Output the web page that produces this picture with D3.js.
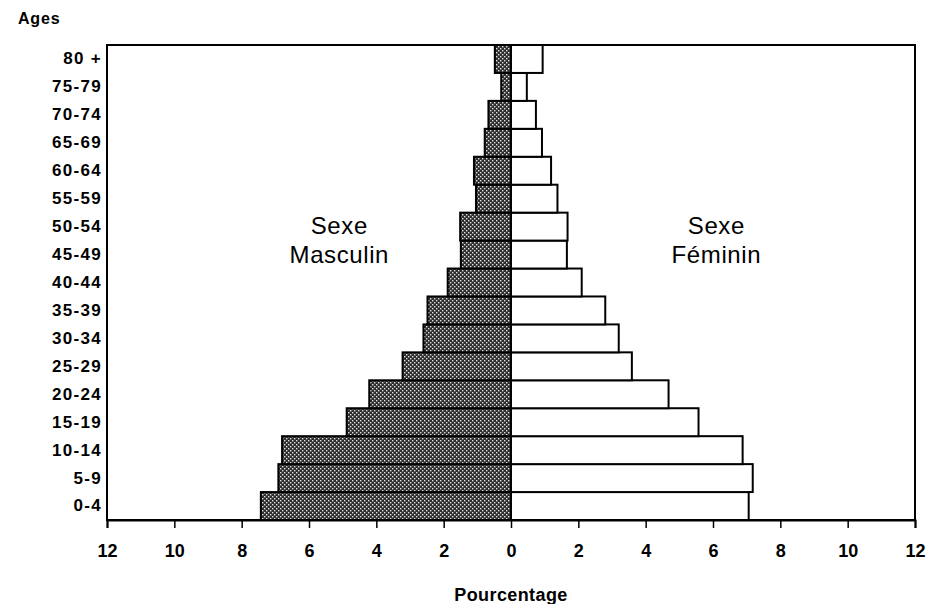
<!DOCTYPE html>
<html>
<head>
<meta charset="utf-8">
<script src="https://cdn.jsdelivr.net/npm/d3@7"></script>
<style>
  body { margin: 0; background: #fff; }
  svg { display: block; }
</style>
</head>
<body>
<svg id="chart"></svg>
<script>
// age groups, youngest first
const ages = ["0-4", "5-9", "10-14", "15-19", "20-24", "25-29", "30-34", "35-39",
  "40-44", "45-49", "50-54", "55-59", "60-64", "65-69", "70-74", "75-79", "80 +"]
// percentages
const male = [7.43, 6.91, 6.80, 4.88, 4.21, 3.22, 2.60, 2.48, 1.88, 1.49, 1.51, 1.04, 1.10, 0.78, 0.67, 0.29, 0.48]
const female = [7.06, 7.18, 6.88, 5.57, 4.68, 3.59, 3.20, 2.80, 2.10, 1.66, 1.68, 1.38, 1.19, 0.92, 0.74, 0.47, 0.94]
const xTicks = [-12, -10, -8, -6, -4, -2, 0, 2, 4, 6, 8, 10, 12]

const width = 926, height = 604
const font = "'Liberation Sans', Arial, Helvetica, sans-serif"
const plot = { left: 107, right: 915, top: 45, bottom: 520 }

const svg = d3.select("#chart")
  .attr("width", width)
  .attr("height", height)

// stipple pattern for the male bars
const defs = svg.append("defs")
const pat = defs.append("pattern")
  .attr("id", "stipple")
  .attr("patternUnits", "userSpaceOnUse")
  .attr("width", 4)
  .attr("height", 4)
pat.append("rect").attr("width", 4).attr("height", 4).attr("fill", "#2e2e2e")
pat.append("rect").attr("x", 0).attr("y", 0).attr("width", 1.4).attr("height", 1.4).attr("fill", "#e0e0e0")
pat.append("rect").attr("x", 2).attr("y", 2).attr("width", 1.4).attr("height", 1.4).attr("fill", "#e0e0e0")

const x = d3.scaleLinear().domain([-12, 12]).range([plot.left, plot.right])
const y = d3.scaleBand().domain(ages.slice().reverse()).range([plot.top, plot.bottom]).padding(0)

const rows = ages.map((a, i) => ({ age: a, m: male[i], f: female[i] }))

// male bars (left)
svg.append("g")
  .selectAll("rect")
  .data(rows)
  .enter()
  .append("rect")
  .attr("x", d => x(-d.m))
  .attr("y", d => y(d.age))
  .attr("width", d => x(0) - x(-d.m))
  .attr("height", y.bandwidth())
  .attr("fill", "url(#stipple)")
  .attr("stroke", "#000")
  .attr("stroke-width", 2)

// female bars (right)
svg.append("g")
  .selectAll("rect")
  .data(rows)
  .enter()
  .append("rect")
  .attr("x", x(0))
  .attr("y", d => y(d.age))
  .attr("width", d => x(d.f) - x(0))
  .attr("height", y.bandwidth())
  .attr("fill", "#fff")
  .attr("stroke", "#000")
  .attr("stroke-width", 2)

// frame
svg.append("rect")
  .attr("x", plot.left).attr("y", plot.top)
  .attr("width", plot.right - plot.left).attr("height", plot.bottom - plot.top)
  .attr("fill", "none")
  .attr("stroke", "#000")
  .attr("stroke-width", 2)

// x axis
const xAxis = svg.append("g")
  .attr("transform", `translate(0,${plot.bottom})`)
  .call(d3.axisBottom(x).tickValues(xTicks).tickSize(8).tickPadding(16)
    .tickFormat(d => Math.abs(d)))
xAxis.select(".domain").attr("stroke-width", 2)
xAxis.selectAll(".tick line").attr("stroke-width", 1.5)
xAxis.selectAll("text")
  .style("font-family", font)
  .style("font-size", "18px")
  .style("font-weight", "bold")
  .attr("fill", "#000")

// y axis
const yAxis = svg.append("g")
  .attr("transform", `translate(${plot.left},0)`)
  .call(d3.axisLeft(y).tickSize(0).tickPadding(5))
yAxis.select(".domain").remove()
yAxis.selectAll("text")
  .style("font-family", font)
  .style("font-size", "17px")
  .style("font-weight", "bold")
  .style("letter-spacing", "1.3px")
  .attr("fill", "#000")

// titles
svg.append("text")
  .attr("x", 18).attr("y", 24)
  .text("Ages")
  .style("font-family", font)
  .style("font-size", "16px")
  .style("font-weight", "bold")
  .style("letter-spacing", "0.8px")

svg.append("text")
  .attr("x", x(0)).attr("y", 601)
  .attr("text-anchor", "middle")
  .text("Pourcentage")
  .style("font-family", font)
  .style("font-size", "18px")
  .style("font-weight", "bold")
  .style("letter-spacing", "0.4px")

const labels = [
  { cx: x(-5.1), lines: ["Sexe", "Masculin"] },
  { cx: x(6.1), lines: ["Sexe", "Féminin"] }
]
labels.forEach(l => {
  l.lines.forEach((t, i) => {
    svg.append("text")
      .attr("x", l.cx).attr("y", 234 + i * 29)
      .attr("text-anchor", "middle")
      .text(t)
      .style("font-family", font)
      .style("font-size", "24px")
      .style("letter-spacing", "0.6px")
  })
})
</script>
</body>
</html>
